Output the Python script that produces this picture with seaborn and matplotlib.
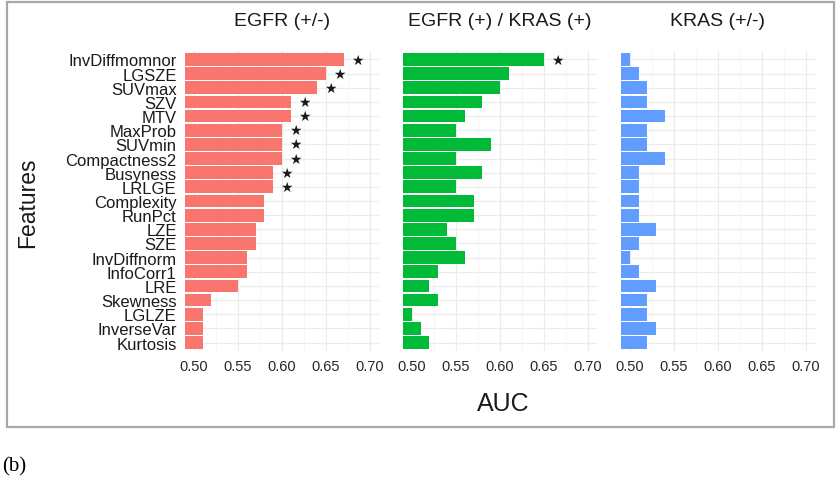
import pandas as pd
import seaborn as sns
import matplotlib.pyplot as plt
from matplotlib.patches import Rectangle
from matplotlib.ticker import MultipleLocator

# Features, top to bottom
features = ['InvDiffmomnor', 'LGSZE', 'SUVmax', 'SZV', 'MTV', 'MaxProb', 'SUVmin',
            'Compactness2', 'Busyness', 'LRLGE', 'Complexity', 'RunPct', 'LZE', 'SZE',
            'InvDiffnorm', 'InfoCorr1', 'LRE', 'Skewness', 'LGLZE', 'InverseVar', 'Kurtosis']

# AUC per panel
auc_egfr = [0.67, 0.65, 0.64, 0.61, 0.61, 0.60, 0.60, 0.60, 0.59, 0.59, 0.58,
            0.58, 0.57, 0.57, 0.56, 0.56, 0.55, 0.52, 0.51, 0.51, 0.51]
auc_both = [0.65, 0.61, 0.60, 0.58, 0.56, 0.55, 0.59, 0.55, 0.58, 0.55, 0.57,
            0.57, 0.54, 0.55, 0.56, 0.53, 0.52, 0.53, 0.50, 0.51, 0.52]
auc_kras = [0.50, 0.51, 0.52, 0.52, 0.54, 0.52, 0.52, 0.54, 0.51, 0.51, 0.51,
            0.51, 0.53, 0.51, 0.50, 0.51, 0.53, 0.52, 0.52, 0.53, 0.52]

# significance stars
sig_egfr = [True] * 10 + [False] * 11
sig_both = [True] + [False] * 20
sig_kras = [False] * 21

panel_titles = ['EGFR (+/-)', 'EGFR (+) / KRAS (+)', 'KRAS (+/-)']
panel_colors = ['#F8766D', '#00BA38', '#619CFF']
x_ticks = [0.50, 0.55, 0.60, 0.65, 0.70]

fig = plt.figure(figsize=(8.37, 4.89), dpi=100)
W, H = 837, 489

# outer frame and panel label
fig.patches.append(Rectangle((7 / W, 1 - 428 / H), 827 / W, 425 / H, transform=fig.transFigure,
                             fill=False, edgecolor='#a8a8a8', linewidth=1.6))
fig.text(2 / W, 1 - 467 / H, '(b)', family='Liberation Serif', fontsize=15, va='center', ha='left')

panels = [(auc_egfr, sig_egfr), (auc_both, sig_both), (auc_kras, sig_kras)]
lefts = [185, 403, 621]
for i, (vals, sig) in enumerate(panels):
    ax = fig.add_axes([lefts[i] / W, 1 - 352 / H, 194 / W, 300 / H])
    df = pd.DataFrame({'feature': features, 'auc': vals})
    sns.barplot(data=df, x='auc', y='feature', ax=ax, color=panel_colors[i],
                saturation=1, width=0.9, linewidth=0, orient='h')
    for j, s in enumerate(sig):
        if s:
            ax.text(vals[j] + 0.015, j, '★', fontsize=10, ha='center', va='center', color='#1a1a1a')
    ax.set_xlim(0.49, 0.71)
    ax.set_ylim(20.6, -0.6)
    ax.set_xticks(x_ticks)
    ax.set_xticklabels([f'{t:.2f}' for t in x_ticks], family='Liberation Sans', fontsize=10.5, color='#262626')
    ax.xaxis.set_minor_locator(MultipleLocator(0.025))
    ax.set_axisbelow(True)
    ax.grid(axis='x', which='major', color='#ebebeb', linewidth=0.9)
    ax.grid(axis='x', which='minor', color='#f2f2f2', linewidth=0.5)
    ax.grid(axis='y', which='major', color='#ebebeb', linewidth=0.9)
    ax.tick_params(axis='both', which='both', length=0, pad=6)
    for sp in ax.spines.values():
        sp.set_visible(False)
    ax.set_xlabel('')
    ax.set_ylabel('')
    if i == 0:
        ax.set_yticks(range(len(features)))
        ax.set_yticklabels(features, family='Liberation Sans', fontsize=12, color='#1a1a1a')
    else:
        ax.tick_params(labelleft=False)
    ax.text(0.5, 1.1, panel_titles[i], transform=ax.transAxes, ha='center', va='center',
            family='Liberation Sans', fontsize=14, color='#1a1a1a')

fig.text(503 / W, 1 - 404 / H, 'AUC', family='Liberation Sans', fontsize=18, ha='center', va='center', color='#1a1a1a')
fig.text(28 / W, 1 - 203 / H, 'Features', family='Liberation Sans', fontsize=16.5, rotation=90,
         ha='center', va='center', color='#1a1a1a')

fig.savefig('out.png', dpi=100)
